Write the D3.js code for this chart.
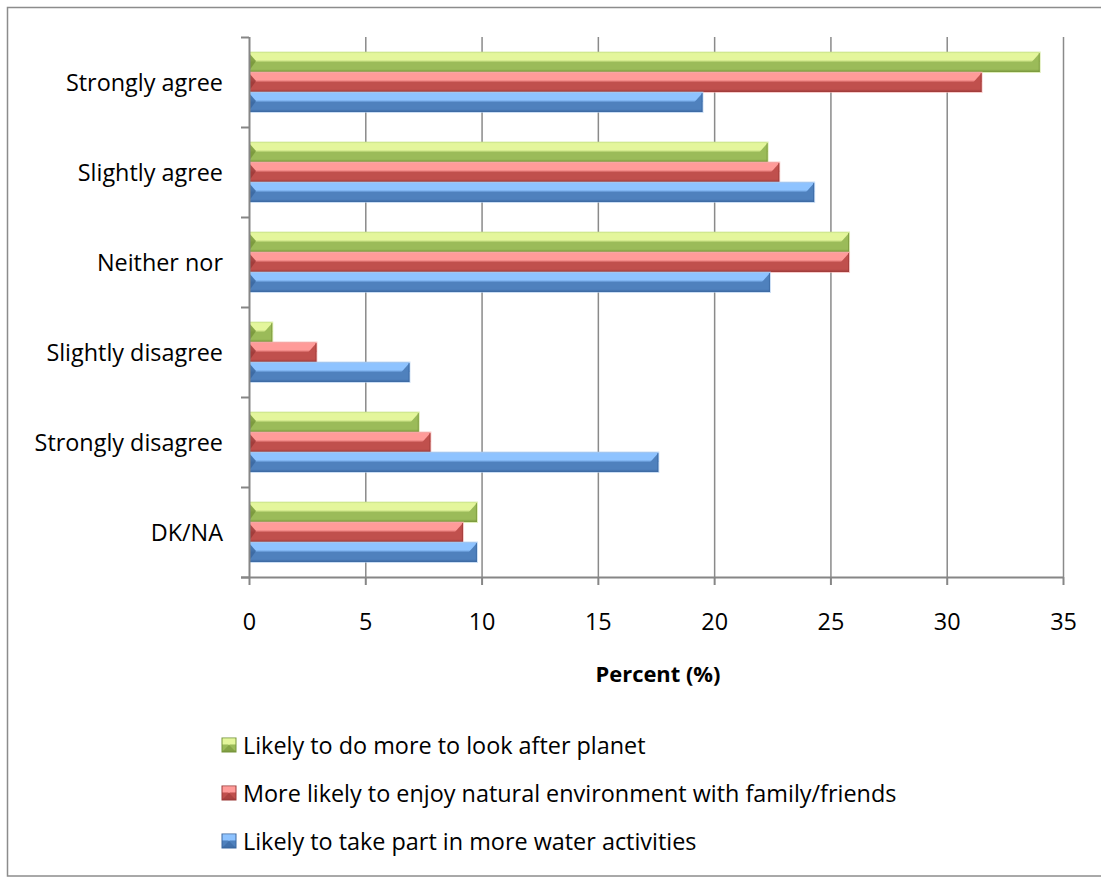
<!DOCTYPE html>
<html>
<head>
<meta charset="utf-8">
<script src="https://cdn.jsdelivr.net/npm/d3@7"></script>
<style>
  html, body { margin: 0; padding: 0; background: #fff; }
  svg { display: block; font-family: "Open Sans", Lato, sans-serif; }
</style>
</head>
<body>
<svg id="chart" width="1101" height="877"></svg>
<script>
// Survey responses, percent of respondents
const categories = ["Strongly agree", "Slightly agree", "Neither nor", "Slightly disagree", "Strongly disagree", "DK/NA"];
const seriesNames = [
  "Likely to do more to look after planet",
  "More likely to enjoy natural environment with family/friends",
  "Likely to take part in more water activities"
];
const planetValues = [34.0, 22.3, 25.8, 1.0, 7.3, 9.8];
const enjoyValues  = [31.5, 22.8, 25.8, 2.9, 7.8, 9.2];
const waterValues  = [19.5, 24.3, 22.4, 6.9, 17.6, 9.8];
const xTicks = [0, 5, 10, 15, 20, 25, 30, 35];

const palette = [
  { light: "#e4f69c", base: "#9bbb59", dark: "#77953a", edge: "#c9e38a" },
  { light: "#ff9b99", base: "#c0504d", dark: "#9c3a38", edge: "#f3aaa8" },
  { light: "#8ec3ff", base: "#4f81bd", dark: "#3a67a0", edge: "#a9c8ec" }
];

const series = [planetValues, enjoyValues, waterValues].map((vals, i) => ({
  name: seriesNames[i], values: vals, colors: palette[i], key: "s" + i
}));

const FONT = 23.4;
const svg = d3.select("#chart");
const margin = { left: 249, right: 38, top: 37, bottom: 300 };
const W = 1101, H = 877;
const plotW = W - margin.left - margin.right;   // 0..35 span
const plotH = H - margin.top - margin.bottom;   // category bands

// outer frame
svg.append("rect")
  .attr("x", 7.5).attr("y", 7.5).attr("width", 1100).attr("height", 868.5)
  .attr("fill", "none").attr("stroke", "#8c8c8c").attr("stroke-width", 1.5);

const x = d3.scaleLinear().domain([0, 35]).range([margin.left, margin.left + plotW]);
const y = d3.scaleBand().domain(categories).range([margin.top, margin.top + plotH]).paddingInner(0).paddingOuter(0);
const ySub = d3.scaleBand().domain(series.map(s => s.key)).range([0, y.bandwidth()]).paddingInner(0).paddingOuter(0.75);

// gradients for the bevelled bars
const defs = svg.append("defs");
series.forEach(s => {
  const g = defs.append("linearGradient").attr("id", "grad-" + s.key)
    .attr("x1", 0).attr("y1", 0).attr("x2", 0).attr("y2", 1);
  const c = s.colors;
  [[0, c.edge], [0.08, c.light], [0.40, c.light], [0.52, c.base], [0.86, c.base], [1, c.dark]]
    .forEach(([o, col]) => g.append("stop").attr("offset", o).attr("stop-color", col));
});

// vertical gridlines
const grid = svg.append("g");
grid.selectAll("line").data(xTicks.slice(1)).join("line")
  .attr("x1", d => x(d) + 0.5).attr("x2", d => x(d) + 0.5)
  .attr("y1", margin.top).attr("y2", margin.top + plotH)
  .attr("stroke", "#8a8a8a").attr("stroke-width", 1.5);

// bars
const groups = svg.append("g").selectAll("g").data(series).join("g");
groups.each(function (s) {
  const g = d3.select(this);
  const c = s.colors;
  const rows = categories.map((cat, i) => ({ cat, v: s.values[i] }));
  const bh = ySub.bandwidth();
  const yy = d => y(d.cat) + ySub(s.key);
  // soft halo
  g.selectAll("rect.halo").data(rows).join("rect").attr("class", "halo")
    .attr("x", x(0)).attr("y", d => yy(d) - 0.5)
    .attr("width", d => x(d.v) - x(0) + 1).attr("height", bh + 1.5)
    .attr("fill", c.edge).attr("opacity", 0.6);
  g.selectAll("rect.bar").data(rows).join("rect").attr("class", "bar")
    .attr("x", x(0)).attr("y", d => yy(d))
    .attr("width", d => x(d.v) - x(0)).attr("height", bh)
    .attr("fill", `url(#grad-${s.key})`);
  // left bevel: arrow-shaped facet
  g.selectAll("path.lb").data(rows).join("path").attr("class", "lb")
    .attr("d", d => {
      const x0 = x(0), y0 = yy(d), b = Math.min(7, (x(d.v) - x0) / 2);
      return `M${x0},${y0 + 1}L${x0 + b},${y0 + bh * 0.45}L${x0},${y0 + bh - 1}Z`;
    })
    .attr("fill", c.dark).attr("opacity", 0.85);
  // right bevel: slanted facet on the upper corner
  g.selectAll("path.rb").data(rows).join("path").attr("class", "rb")
    .attr("d", d => {
      const x1 = x(d.v), y0 = yy(d), b = Math.min(8, (x1 - x(0)) / 2);
      return `M${x1},${y0 + 1}L${x1},${y0 + bh * 0.5}L${x1 - b},${y0 + bh * 0.5}Z`;
    })
    .attr("fill", c.base);
  g.selectAll("line.re").data(rows).join("line").attr("class", "re")
    .attr("x1", d => x(d.v) - 0.5).attr("x2", d => x(d.v) - 0.5)
    .attr("y1", d => yy(d) + 1).attr("y2", d => yy(d) + bh)
    .attr("stroke", c.dark).attr("stroke-width", 1).attr("opacity", 0.7);
});

// y axis (category boundaries as ticks)
const axisColor = "#868686";
const yAxisG = svg.append("g");
yAxisG.append("line")
  .attr("x1", margin.left + 0.5).attr("x2", margin.left + 0.5)
  .attr("y1", margin.top).attr("y2", margin.top + plotH)
  .attr("stroke", axisColor).attr("stroke-width", 2);
const bounds = categories.map(c => y(c)).concat([margin.top + plotH]);
yAxisG.selectAll("line.t").data(bounds).join("line").attr("class", "t")
  .attr("x1", margin.left - 8).attr("x2", margin.left)
  .attr("y1", d => d + 0.5).attr("y2", d => d + 0.5)
  .attr("stroke", axisColor).attr("stroke-width", 2);
yAxisG.selectAll("text").data(categories).join("text")
  .attr("x", 223).attr("y", d => y(d) + y.bandwidth() / 2)
  .attr("text-anchor", "end").attr("dominant-baseline", "central")
  .attr("font-size", FONT).attr("fill", "#000").text(d => d);

// x axis
const xAxisG = svg.append("g")
  .attr("transform", `translate(0,${margin.top + plotH})`)
  .call(d3.axisBottom(x).tickValues(xTicks).tickSize(8).tickFormat(d3.format("d")));
xAxisG.select(".domain").attr("stroke", axisColor).attr("stroke-width", 2)
  .attr("d", `M${margin.left - 8},0.5H${margin.left + plotW}`);
xAxisG.selectAll(".tick line").attr("stroke", axisColor).attr("stroke-width", 2);
xAxisG.selectAll(".tick text").attr("font-size", FONT).attr("fill", "#000")
  .attr("font-family", "'Open Sans', Lato, sans-serif")
  .attr("y", 44).attr("dy", null).attr("dominant-baseline", "central");

svg.append("text")
  .attr("x", x(17.5) + 2).attr("y", 673)
  .attr("text-anchor", "middle").attr("dominant-baseline", "central")
  .attr("font-size", FONT - 1.5).attr("font-weight", "bold").text("Percent (%)");

// legend
const legend = svg.append("g");
const legendY = [745, 793, 841];
const items = legend.selectAll("g").data(series).join("g")
  .attr("transform", (d, i) => `translate(222,${legendY[i]})`);
items.append("rect").attr("x", 0).attr("y", -7).attr("width", 14).attr("height", 14)
  .attr("fill", d => `url(#grad-${d.key})`).attr("stroke", d => d.colors.dark).attr("stroke-width", 1);
items.append("path")
  .attr("d", "M0.5,-6.5L7,0L13.5,-6.5Z").attr("fill", d => d.colors.light).attr("opacity", 0.9);
items.append("path")
  .attr("d", "M0.5,6.5L7,0L13.5,6.5Z").attr("fill", d => d.colors.dark).attr("opacity", 0.6);
items.append("text").attr("x", 21).attr("y", 0)
  .attr("dominant-baseline", "central").attr("font-size", FONT).text(d => d.name);
</script>
</body>
</html>
